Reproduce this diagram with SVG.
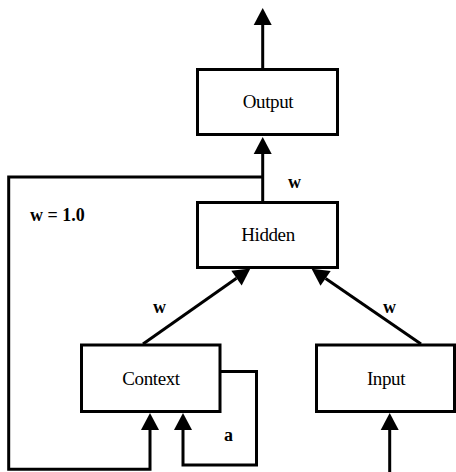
<svg xmlns="http://www.w3.org/2000/svg" width="456" height="472" viewBox="0 0 456 472">
<style>
.box{fill:#fff;stroke:#000;stroke-width:3}
.ln{fill:none;stroke:#000;stroke-width:3;stroke-linejoin:miter}
text{font-family:'Liberation Serif','DejaVu Serif',serif;fill:#000}
.lbl{font-size:19px;text-anchor:middle;letter-spacing:-0.4px}
.w{font-size:18px;font-weight:bold}
</style>
<defs>
<marker id="ah" markerUnits="userSpaceOnUse" markerWidth="18" markerHeight="20" refX="0" refY="9.5" orient="auto" viewBox="0 0 18 20" overflow="visible">
<path d="M0,0.5 L17,9.5 L0,18.5 z" fill="#000"/>
</marker>
</defs>
<g id="connectors">
<path class="ln" d="M262.7,69 V25" marker-end="url(#ah)"/>
<path class="ln" d="M262.7,202 V154" marker-end="url(#ah)"/>
<path class="ln" d="M262.7,177 H8.7 V469.3 H150 V430" marker-end="url(#ah)"/>
<path class="ln" d="M220,371.5 H256.5 V465 H183 V430" marker-end="url(#ah)"/>
<path class="ln" d="M389.7,472 V430" marker-end="url(#ah)"/>
<path class="ln" d="M143,344 L236.5,278.2" marker-end="url(#ah)"/>
<path class="ln" d="M421,344 L325.6,278.4" marker-end="url(#ah)"/>
</g>
<g id="output"><rect class="box" x="197.5" y="69.5" width="140" height="65"/><text class="lbl" x="268" y="108" font-family="Liberation Serif, serif">Output</text></g>
<g id="hidden"><rect class="box" x="197.5" y="202.5" width="140" height="65"/><text class="lbl" x="268" y="241" font-family="Liberation Serif, serif">Hidden</text></g>
<g id="context"><rect class="box" x="81.5" y="345" width="138.5" height="66.5"/><text class="lbl" x="151" y="385" font-family="Liberation Serif, serif">Context</text></g>
<g id="input"><rect class="box" x="316.5" y="345" width="138" height="66.5"/><text class="lbl" x="386" y="385" font-family="Liberation Serif, serif">Input</text></g>
<g id="labels">
<text class="w" x="288" y="188">w</text>
<text class="w" x="30" y="221">w = 1.0</text>
<text class="w" x="153" y="313">w</text>
<text class="w" x="383" y="313">w</text>
<text class="w" x="224" y="441">a</text>
</g>
</svg>
